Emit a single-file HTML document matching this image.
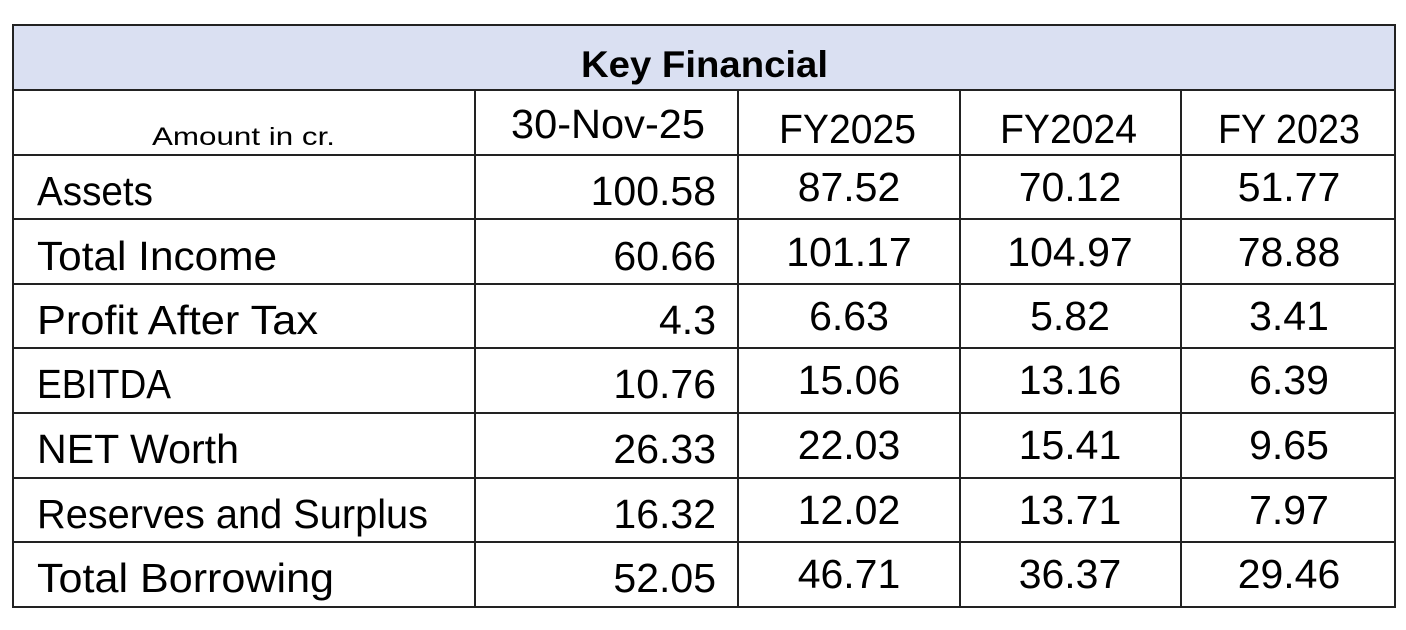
<!DOCTYPE html>
<html><head><meta charset="utf-8"><style>
html,body{margin:0;padding:0;background:#fff;}
svg{display:block;}
text{font-family:"Liberation Sans",sans-serif;fill:#000;}
</style></head><body>
<svg width="1406" height="630" viewBox="0 0 1406 630" xmlns="http://www.w3.org/2000/svg">
<rect x="0" y="0" width="1406" height="630" fill="#fff"/>
<rect x="13" y="25" width="1382" height="65" fill="#dae0f2"/>
<g stroke="#222" stroke-width="2" fill="none">
<rect x="13" y="25" width="1382" height="582"/>
<line x1="13" y1="90" x2="1395" y2="90"/>
<line x1="13" y1="155" x2="1395" y2="155"/>
<line x1="13" y1="219" x2="1395" y2="219"/>
<line x1="13" y1="284" x2="1395" y2="284"/>
<line x1="13" y1="348" x2="1395" y2="348"/>
<line x1="13" y1="413" x2="1395" y2="413"/>
<line x1="13" y1="478" x2="1395" y2="478"/>
<line x1="13" y1="542" x2="1395" y2="542"/>
<line x1="475" y1="90" x2="475" y2="607"/>
<line x1="738" y1="90" x2="738" y2="607"/>
<line x1="960" y1="90" x2="960" y2="607"/>
<line x1="1181" y1="90" x2="1181" y2="607"/>
</g>
<text x="581" y="77" font-size="37" font-weight="bold" textLength="247" lengthAdjust="spacingAndGlyphs">Key Financial</text>
<text x="152" y="145" font-size="25" textLength="183" lengthAdjust="spacingAndGlyphs">Amount in cr.</text>
<text x="511" y="138" font-size="41" textLength="194" lengthAdjust="spacingAndGlyphs">30-Nov-25</text>
<text x="779" y="143" font-size="41" textLength="137" lengthAdjust="spacingAndGlyphs">FY2025</text>
<text x="1000" y="143" font-size="41" textLength="137" lengthAdjust="spacingAndGlyphs">FY2024</text>
<text x="1218" y="143" font-size="41" textLength="142" lengthAdjust="spacingAndGlyphs">FY 2023</text>
<g font-size="41">
<text x="37" y="205" textLength="116" lengthAdjust="spacingAndGlyphs">Assets</text>
<text x="37" y="270" textLength="240" lengthAdjust="spacingAndGlyphs">Total Income</text>
<text x="37" y="334" textLength="281" lengthAdjust="spacingAndGlyphs">Profit After Tax</text>
<text x="37" y="398" textLength="134" lengthAdjust="spacingAndGlyphs">EBITDA</text>
<text x="37" y="463" textLength="202" lengthAdjust="spacingAndGlyphs">NET Worth</text>
<text x="37" y="528" textLength="391" lengthAdjust="spacingAndGlyphs">Reserves and Surplus</text>
<text x="37" y="592" textLength="297" lengthAdjust="spacingAndGlyphs">Total Borrowing</text>
</g>
<g font-size="41" text-anchor="end">
<text x="716" y="205">100.58</text>
<text x="716" y="270">60.66</text>
<text x="716" y="334">4.3</text>
<text x="716" y="398">10.76</text>
<text x="716" y="463">26.33</text>
<text x="716" y="528">16.32</text>
<text x="716" y="592">52.05</text>
</g>
<g font-size="41" text-anchor="middle">
<text x="849" y="201">87.52</text>
<text x="849" y="266">101.17</text>
<text x="849" y="330">6.63</text>
<text x="849" y="394">15.06</text>
<text x="849" y="459">22.03</text>
<text x="849" y="524">12.02</text>
<text x="849" y="588">46.71</text>
<text x="1070" y="201">70.12</text>
<text x="1070" y="266">104.97</text>
<text x="1070" y="330">5.82</text>
<text x="1070" y="394">13.16</text>
<text x="1070" y="459">15.41</text>
<text x="1070" y="524">13.71</text>
<text x="1070" y="588">36.37</text>
<text x="1289" y="201">51.77</text>
<text x="1289" y="266">78.88</text>
<text x="1289" y="330">3.41</text>
<text x="1289" y="394">6.39</text>
<text x="1289" y="459">9.65</text>
<text x="1289" y="524">7.97</text>
<text x="1289" y="588">29.46</text>
</g>
</svg>
</body></html>
